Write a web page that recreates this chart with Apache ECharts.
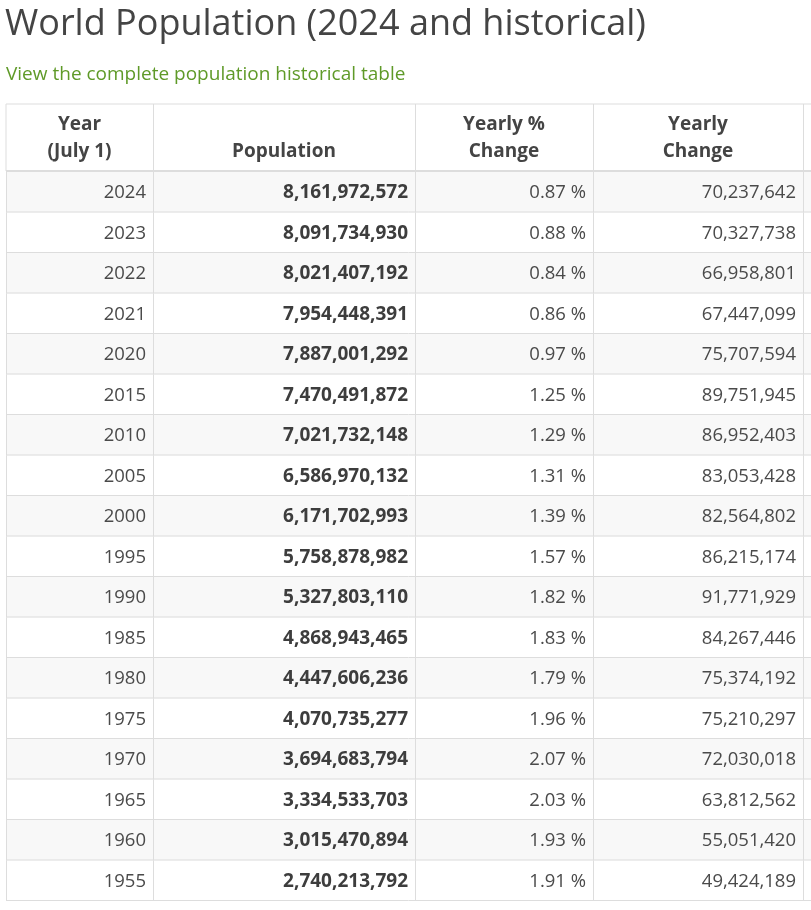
<!DOCTYPE html>
<html>
<head>
    <meta charset="UTF-8">
    <title>World Population (2024 and historical)</title>
    <style>
        html, body {
            margin: 0;
            padding: 0;
            background: #fff;
        }
        #main {
            width: 811px;
            height: 910px;
        }
    </style>
</head>
<body>
<div id="main"></div>
<script src="https://cdn.jsdelivr.net/npm/echarts@6/dist/echarts.min.js"></script>
<script>
    // table data
    var years = [2024, 2023, 2022, 2021, 2020, 2015, 2010, 2005, 2000, 1995, 1990, 1985, 1980, 1975, 1970, 1965, 1960, 1955];
    var population = [8161972572, 8091734930, 8021407192, 7954448391, 7887001292, 7470491872, 7021732148, 6586970132,
        6171702993, 5758878982, 5327803110, 4868943465, 4447606236, 4070735277, 3694683794, 3334533703, 3015470894, 2740213792];
    var yearlyPct = [0.87, 0.88, 0.84, 0.86, 0.97, 1.25, 1.29, 1.31, 1.39, 1.57, 1.82, 1.83, 1.79, 1.96, 2.07, 2.03, 1.93, 1.91];
    var yearlyChange = [70237642, 70327738, 66958801, 67447099, 75707594, 89751945, 86952403, 83053428, 82564802,
        86215174, 91771929, 84267446, 75374192, 75210297, 72030018, 63812562, 55051420, 49424189];
    var headers = [['Year', '(July 1)'], ['', 'Population'], ['Yearly %', 'Change'], ['Yearly', 'Change'], ['', '']];

    var font = '"Open Sans", "Noto Sans", sans-serif';
    var gridLeft = 6;
    var tableTop = 104;
    var headBottom = 171;
    // column edges in x axis units (0 = left border of table)
    var colEdges = [0, 147, 409, 587, 797, 1000];
    var border = '#dddddd';

    function fmt(n) {
        return String(n).replace(/\B(?=(\d{3})+(?!\d))/g, ',');
    }

    var myChart = echarts.init(document.getElementById('main'));

    var headerGraphics = [
        {
            type: 'text', left: 5, top: 7,
            style: {text: 'World Population (2024 and historical)', fill: '#444', font: '36px ' + font}
        },
        {
            type: 'text', left: 6, top: 65,
            style: {text: 'View the complete population historical table', fill: '#5f9a28', font: '19px ' + font}
        },
        {
            type: 'rect', shape: {x: gridLeft, y: tableTop, width: 811, height: headBottom - tableTop},
            style: {fill: '#fff', stroke: border, lineWidth: 1}
        },
        {
            type: 'line', shape: {x1: gridLeft, y1: headBottom, x2: 811, y2: headBottom},
            style: {stroke: border, lineWidth: 2}
        }
    ];
    headers.forEach(function (h, c) {
        var x0 = gridLeft + colEdges[c], x1 = gridLeft + colEdges[c + 1];
        if (c > 0) {
            headerGraphics.push({
                type: 'line', shape: {x1: x0 + 0.5, y1: tableTop, x2: x0 + 0.5, y2: headBottom},
                style: {stroke: border, lineWidth: 1}
            });
        }
        h.forEach(function (t, k) {
            if (!t) return;
            headerGraphics.push({
                type: 'text',
                style: {
                    text: t, x: (x0 + x1) / 2, y: 125 + k * 27, align: 'center', verticalAlign: 'middle',
                    fill: '#444', font: 'bold 19px ' + font
                }
            });
        });
    });

    var option = {
        animation: false,
        graphic: headerGraphics,
        grid: {left: gridLeft, right: 0, top: 172, bottom: 9},
        xAxis: {type: 'value', min: 0, max: 805, show: false},
        yAxis: {type: 'category', data: years, inverse: true, show: false},
        series: [{
            type: 'custom',
            clip: false,
            data: years.map(function (y, i) { return [0, i]; }),
            renderItem: function (params, api) {
                var i = api.value(1);
                var c = api.coord([0, i]);
                var h = api.size([0, 1])[1];
                var top = c[1] - h / 2, bottom = c[1] + h / 2;
                var xs = colEdges.map(function (e) { return api.coord([e, i])[0]; });
                var kids = [];
                if (i % 2 === 0) {
                    kids.push({type: 'rect', shape: {x: xs[0], y: top, width: 811, height: h}, style: {fill: '#f8f8f8'}});
                }
                kids.push({type: 'line', shape: {x1: xs[0], y1: bottom - 0.5, x2: 811, y2: bottom - 0.5},
                    style: {stroke: border, lineWidth: 1}});
                for (var k = 0; k < 5; k++) {
                    kids.push({type: 'line', shape: {x1: xs[k] + 0.5, y1: top, x2: xs[k] + 0.5, y2: bottom},
                        style: {stroke: border, lineWidth: 1}});
                }
                var cells = [
                    [String(years[i]), false],
                    [fmt(population[i]), true],
                    [yearlyPct[i].toFixed(2) + ' %', false],
                    [fmt(yearlyChange[i]), false]
                ];
                cells.forEach(function (cell, k) {
                    kids.push({
                        type: 'text',
                        style: {
                            text: cell[0], x: xs[k + 1] - 7, y: c[1] + 0.5, align: 'right', verticalAlign: 'middle',
                            fill: cell[1] ? '#3d3d3d' : '#4a4a4a',
                            font: (cell[1] ? 'bold 19px ' : '18.5px ') + font
                        }
                    });
                });
                return {type: 'group', children: kids};
            }
        }]
    };

    myChart.setOption(option);
</script>
</body>
</html>
